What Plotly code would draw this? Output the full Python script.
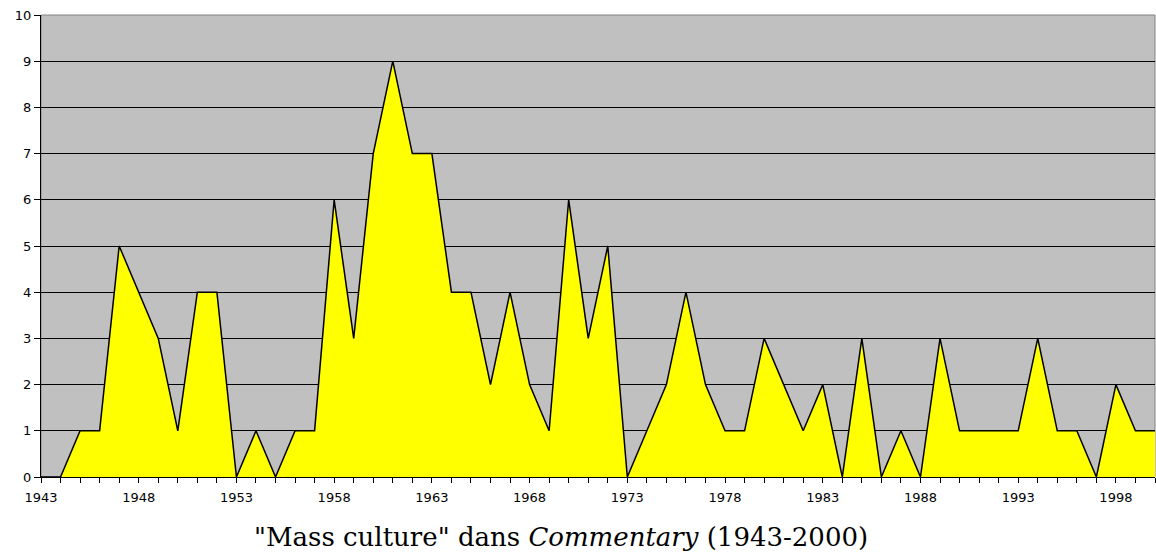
import plotly.graph_objects as go

years = list(range(1943, 2001))
counts = [0, 0, 1, 1, 5, 4, 3, 1, 4, 4,
          0, 1, 0, 1, 1, 6, 3, 7, 9, 7,
          7, 4, 4, 2, 4, 2, 1, 6, 3, 5,
          0, 1, 2, 4, 2, 1, 1, 3, 2, 1,
          2, 0, 3, 0, 1, 0, 3, 1, 1, 1,
          1, 3, 1, 1, 0, 2, 1, 1]
tick_labels = [str(y) if (y - 1943) % 5 == 0 else "" for y in years]
y_ticks = list(range(0, 11))
title_text = '"Mass culture" dans <i>Commentary</i> (1943-2000)'

fig = go.Figure()
fig.add_trace(go.Scatter(
    x=years, y=counts, mode="lines", fill="tozeroy",
    fillcolor="#FFFF00", line=dict(color="black", width=1.5),
    hoverinfo="x+y", showlegend=False))

fig.update_layout(
    width=1156, height=553,
    margin=dict(l=41, r=1, t=15, b=76),
    paper_bgcolor="white", plot_bgcolor="#C0C0C0",
    font=dict(family="DejaVu Sans, Verdana", size=13, color="black"),
    xaxis=dict(range=[1943, 2000], tickmode="array", tickvals=years,
               ticktext=tick_labels, ticks="outside", ticklen=5,
               tickcolor="black", tickwidth=1, showgrid=False,
               showline=True, linecolor="black", linewidth=1,
               zeroline=False, fixedrange=True, automargin=False,
               ticklabelstandoff=3),
    yaxis=dict(range=[0, 10], tickmode="array", tickvals=y_ticks,
               ticks="outside", ticklen=6, tickcolor="black",
               showgrid=True, gridcolor="black", gridwidth=1,
               showline=True, linecolor="black", linewidth=1,
               zeroline=False, fixedrange=True, automargin=False),
    shapes=[dict(type="rect", xref="paper", yref="paper", x0=0, y0=0,
                 x1=1, y1=1, line=dict(color="#808080", width=1),
                 layer="below")],
    annotations=[dict(text=title_text, xref="paper", yref="paper",
                      x=(561 - 41) / 1115, y=(477 - 537) / 462,
                      xanchor="center", yanchor="middle", showarrow=False,
                      font=dict(family="DejaVu Serif, Georgia, serif",
                                size=26, color="black"))],
)

fig.write_html(
    "out.html",
    config={"displayModeBar": False},
    post_script="document.body.style.margin='0';"
                "document.body.style.overflow='hidden';",
)
